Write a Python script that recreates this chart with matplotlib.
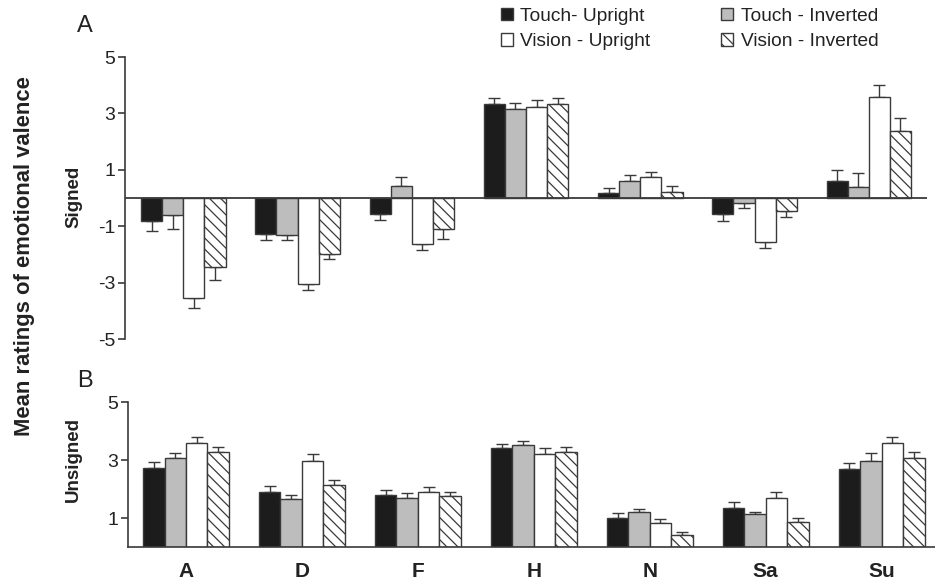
import matplotlib.pyplot as plt
import numpy as np
from matplotlib.patches import Patch

plt.rcParams['font.family'] = ['Liberation Sans', 'DejaVu Sans']
plt.rcParams['axes.unicode_minus'] = False
plt.rcParams['hatch.color'] = '#3a3a3a'
plt.rcParams['hatch.linewidth'] = 0.9

emotions = ['A', 'D', 'F', 'H', 'N', 'Sa', 'Su']
conditions = ['Touch- Upright', 'Touch - Inverted', 'Vision - Upright', 'Vision - Inverted']

# panel A: signed ratings (mean, sem) per condition
signed_tu = [-0.82, -1.29, -0.58, 3.32, 0.17, -0.58, 0.60]
signed_ti = [-0.62, -1.32, 0.43, 3.17, 0.60, -0.19, 0.39]
signed_vu = [-3.53, -3.04, -1.64, 3.24, 0.74, -1.55, 3.59]
signed_vi = [-2.45, -2.00, -1.11, 3.33, 0.22, -0.46, 2.38]
signed_err_tu = [0.35, 0.21, 0.21, 0.24, 0.17, 0.24, 0.41]
signed_err_ti = [0.47, 0.18, 0.32, 0.21, 0.21, 0.18, 0.51]
signed_err_vu = [0.37, 0.21, 0.21, 0.22, 0.18, 0.24, 0.41]
signed_err_vi = [0.47, 0.18, 0.33, 0.20, 0.20, 0.20, 0.47]

# panel B: unsigned ratings
unsigned_tu = [2.73, 1.89, 1.79, 3.40, 1.01, 1.36, 2.69]
unsigned_ti = [3.06, 1.64, 1.68, 3.52, 1.22, 1.13, 2.98]
unsigned_vu = [3.58, 2.98, 1.91, 3.21, 0.84, 1.68, 3.58]
unsigned_vi = [3.29, 2.14, 1.76, 3.29, 0.41, 0.87, 3.06]
unsigned_err_tu = [0.21, 0.21, 0.17, 0.17, 0.15, 0.20, 0.20]
unsigned_err_ti = [0.17, 0.17, 0.19, 0.14, 0.09, 0.09, 0.25]
unsigned_err_vu = [0.21, 0.22, 0.15, 0.19, 0.13, 0.21, 0.20]
unsigned_err_vi = [0.15, 0.17, 0.15, 0.17, 0.10, 0.14, 0.23]

styles = [
    dict(facecolor='#1c1c1c', hatch=None),
    dict(facecolor='#bdbdbd', hatch=None),
    dict(facecolor='white', hatch=None),
    dict(facecolor='white', hatch='\\\\\\'),
]
edge = '#3a3a3a'
txt = '#222222'
width = 0.185


def draw_bars(ax, series, errs):
    x = np.arange(len(emotions))
    for j, (vals, err) in enumerate(zip(series, errs)):
        vals = np.array(vals)
        err = np.array(err)
        pos = x + (j - 1.5) * width
        ax.bar(pos, vals, width, edgecolor=edge, linewidth=1.0, zorder=2, **styles[j])
        # error bars only point away from the baseline
        lower = np.where(vals < 0, err, 0)
        upper = np.where(vals >= 0, err, 0)
        ax.errorbar(pos, vals, yerr=[lower, upper], fmt='none', ecolor=edge,
                    elinewidth=1.0, capsize=4, capthick=1.0, zorder=1)


def style_y(ax):
    ax.spines['left'].set_color(edge)
    ax.spines['left'].set_linewidth(1.2)
    ax.tick_params(axis='y', length=5, width=1.2, color=edge, labelsize=14,
                   labelcolor=txt, pad=2)


fig = plt.figure(figsize=(9.35, 5.83), dpi=100)

ax1 = fig.add_axes([0.1337, 0.4185, 0.8578, 0.4837])
draw_bars(ax1, [signed_tu, signed_ti, signed_vu, signed_vi],
          [signed_err_tu, signed_err_ti, signed_err_vu, signed_err_vi])
ax1.axhline(0, color=edge, linewidth=1.3, zorder=3)
ax1.set_xlim(-0.51, 6.51)
ax1.set_ylim(-5, 5)
ax1.set_yticks([5, 3, 1, -1, -3, -5])
ax1.set_xticks([])
for s in ['top', 'right', 'bottom']:
    ax1.spines[s].set_visible(False)
style_y(ax1)

ax2 = fig.add_axes([0.1369, 0.0617, 0.8631, 0.2487])
draw_bars(ax2, [unsigned_tu, unsigned_ti, unsigned_vu, unsigned_vi],
          [unsigned_err_tu, unsigned_err_ti, unsigned_err_vu, unsigned_err_vi])
ax2.set_xlim(-0.5, 6.46)
ax2.set_ylim(0, 5)
ax2.set_yticks([5, 3, 1])
ax2.set_xticks(np.arange(len(emotions)))
ax2.set_xticklabels(emotions, fontsize=15, fontweight='bold', color=txt)
for s in ['top', 'right']:
    ax2.spines[s].set_visible(False)
ax2.spines['bottom'].set_color(edge)
ax2.spines['bottom'].set_linewidth(1.2)
style_y(ax2)
ax2.tick_params(axis='x', length=0, pad=11)

fig.text(0.079, 0.662, 'Signed', rotation=90, fontsize=13.5, fontweight='bold',
         color=txt, ha='center', va='center')
fig.text(0.079, 0.211, 'Unsigned', rotation=90, fontsize=13.5, fontweight='bold',
         color=txt, ha='center', va='center')
fig.text(0.082, 0.955, 'A', fontsize=17, color=txt, ha='left', va='center')
fig.text(0.083, 0.346, 'B', fontsize=17, color=txt, ha='left', va='center')
fig.text(0.026, 0.561, 'Mean ratings of emotional valence', rotation=90,
         fontsize=15.8, fontweight='bold', color=txt, ha='center', va='center')

handles = [Patch(edgecolor=edge, linewidth=1.0, **styles[k]) for k in (0, 2, 1, 3)]
labels = [conditions[k] for k in (0, 2, 1, 3)]
fig.legend(handles, labels, ncol=2, loc='upper left', bbox_to_anchor=(0.536, 0.986),
           frameon=False, fontsize=13.8, handlelength=0.6, handleheight=0.6,
           handletextpad=0.4, columnspacing=3.7, labelspacing=0.42,
           borderpad=0, borderaxespad=0, labelcolor=txt)

fig.savefig('out.png', dpi=100)
